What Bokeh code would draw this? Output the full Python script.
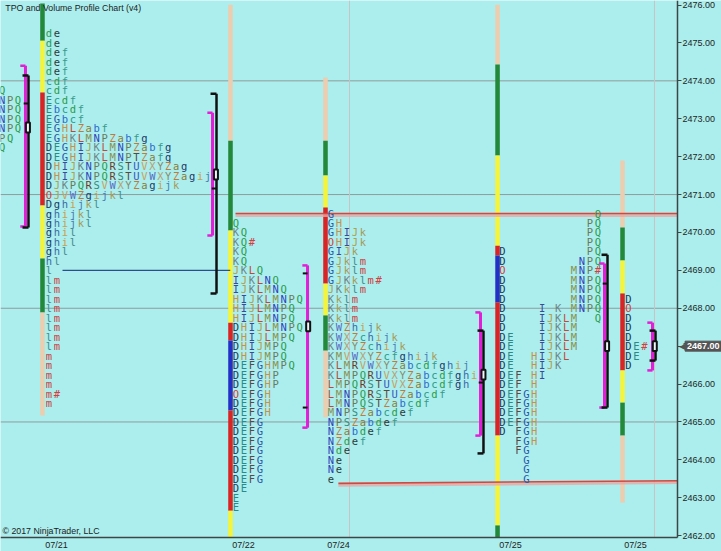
from bokeh.plotting import figure
from bokeh.models import Range1d, FixedTicker, ColumnDataSource, Label, NumeralTickFormatter
from bokeh.core.properties import value
from bokeh.embed import file_html
from bokeh.resources import INLINE

TICK = 0.25  # one TPO row = 0.25 point

# ---------------- data: TPO letters, one string per price row (top -> bottom) ----------------
prev_top = 2473.75
prev_rows = ["KLQ", "KLNPQ", "KLNPQ", "KLNPQ", "KLNPQ", "KLPQ", "KLQ"]

jul21_top = 2475.25
jul21_rows = ["de", "de", "def", "def", "def", "cdf", "cdf", "Ecdf", "Ebcdf", "EGbcf",
              "EGHLZabf", "EGHKLMNPZabfg", "DEGHIJKLMNPZabfg", "DEGHIJKLMNPTZafg",
              "DHIJKNPQRSTUVXYZag", "DHIJKNPQRSTUVWXYZagij", "DJKPQRSVWXYZagijk",
              "OJVWZgijkl", "Dghijkl", "ghijkl", "ghijkl", "ghil", "ghil", "ghl", "hl", "l",
              "lm", "lm", "lm", "lm", "lm", "lm", "lm", "lm", "m", "m", "m", "m", "m#", "m"]

jul22_top = 2470.25
jul22_rows = ["Q", "KQ", "KQ#", "KQ", "KQ", "JKLQ", "IJKLNQ", "IJKLMNQ", "HIJKLMNPQ", "HIJLMNPQ",
              "HIJLMNPQ", "DHIJLMNPQ", "DHIJLMPQ", "DHIJMPQ", "DHIJMPQ", "DEFGHMPQ", "DEFGHP",
              "DEFGHP", "OEFGH", "DEFGH", "DEFGH", "DEFG", "DEFG", "DEFG", "DEFG", "DEFG",
              "DEFG", "DEFG", "DE", "E", "E"]

jul24_top = 2470.5
jul24_rows = ["G", "GH", "GHIJk", "OHIJk", "GIJk", "GJklm", "GJklm", "GJKklm#", "JKklm", "Kklm",
              "Kklm", "Kklm", "KWZhijk", "KWXZchijk", "KWXYZchijk", "KMVWXYZcfghijk",
              "KLMRVWXYZabcdfghij", "KLMPQRUVXYZabcdfghi", "LMPQRSTUVXZabcdfgh",
              "LMNPQRSTUZabcdf", "LMNPQSTZabcdf", "MNPSZabcdef", "NPSZabdef", "NZabdef",
              "NZdef", "Nde", "Ne", "Ne", "e"]

jul25a_top = 2470.5
jul25a_rows = ["            Q", "           PQ", "           PQ", "           PQ",
               "D          PQ", "D         NPQ", "O        MNP#", "D        MNPQ",
               "D        MNPQ", "D        MNPQ", "D    I K MNPQ", "D    IJKLM  Q",
               "D    IJKLM", "DE   IJKLM", "DE   IJKLM", "DE  HIJKL", "DE  HIJK", "DEF HI",
               "DEF H", "DEFGH", "DEFGH", "DEFGH", "DEFGH", "D FGH", "  FGH", "  FG",
               "   G", "   G", "   G"]

jul25b_top = 2468.25
jul25b_rows = ["D", "O", "D", "D", "D", "DE#", "DE", "D"]

# session slots (in TPO-column units along the time axis)
profile_tops = [prev_top, jul21_top, jul22_top, jul24_top, jul25a_top, jul25b_top]
profile_rows = [prev_rows, jul21_rows, jul22_rows, jul24_rows, jul25a_rows, jul25b_rows]
profile_slot = [-1.8, 6.10, 29.62, 41.57, 63.14, 78.99]

# ---------------- data: session range bars (price breaks and segment colours) ----------------
bar_slot = [5.28, 28.93, 40.88, 62.52, 78.24]
bar_levels = [
    [2476.04, 2475.06, 2473.69, 2470.71, 2469.31, 2467.89, 2465.17],
    [2476.01, 2472.42, 2470.05, 2467.62, 2467.15, 2465.30, 2462.66, 2461.95],
    [2474.09, 2472.42, 2471.50, 2470.66, 2468.65, 2467.81, 2466.88, 2465.12],
    [2476.01, 2474.43, 2472.03, 2469.65, 2469.39, 2468.15, 2464.64, 2462.27, 2461.95],
    [2471.90, 2470.13, 2469.26, 2468.39, 2466.36, 2465.51, 2464.64, 2462.87],
]
bar_kinds = [
    ["g", "y", "r", "y", "g", "t"],
    ["t", "g", "y", "r", "b", "r", "y"],
    ["t", "g", "y", "r", "y", "g", "t"],
    ["t", "g", "y", "r", "b", "r", "y", "g"],
    ["t", "g", "y", "r", "y", "g", "t"],
]

# ---------------- data: value areas, initial balance, POC ----------------
va_slot = [3.14, 26.67, 38.62, 60.38, 75.97, 82.01]
va_high = [2474.40, 2473.16, 2469.13, 2467.89, 2469.18, 2467.62]
va_low = [2470.16, 2469.92, 2464.85, 2464.64, 2465.38, 2466.36]

ib_slot = [3.52, 27.17, 60.75, 76.35, 82.39]
ib_high = [2474.14, 2473.66, 2467.41, 2469.41, 2467.41]
ib_low = [2470.13, 2468.39, 2464.17, 2465.38, 2466.62]

mark_slot = [3.52, 27.17, 38.62, 38.62, 60.75, 76.35]
mark_price = [2473.40, 2471.16, 2468.92, 2465.38, 2466.04, 2468.65]

poc_slot = [3.45, 27.1, 38.7, 60.75, 76.3, 82.3]
poc_price = [2472.77, 2471.53, 2467.52, 2466.25, 2467.00, 2467.00]

# reference lines
red_x0 = [29.56, 42.5]
red_y0 = [2470.50, 2463.38]
red_y1 = [2470.50, 2463.45]
blue_x0, blue_x1, blue_y = [7.8], [28.9], [2469.0]

# axes
chart_end = 85.16                 # last slot of the price pane
price_low, price_high = 2461.95, 2476.12
date_ticks = [7.04, 30.57, 42.52, 64.15, 79.87]
date_labels = ["07/21", "07/22", "07/24", "07/25", "07/25"]
price_ticks = list(range(2462, 2477))
grid_prices = [2465, 2468, 2471, 2474]
grid_slots = [43.9, 82.26]
last_price = 2467.00

# ---------------- styles ----------------
BG = "#abeeed"
AX = "#3c4646"
seg_colors = {"g": "#23883a", "y": "#f4f43a", "r": "#d82424", "b": "#2230c8", "t": "#eccdb0"}
letter_colors = {
    'D': '#1b3b5a', 'E': '#2a8a8a', 'F': '#5a4848', 'G': '#2a56a8', 'H': '#c4924c',
    'I': '#3a4a9a', 'J': '#b0a050', 'K': '#6f8686', 'L': '#c0483a', 'M': '#8a9050',
    'N': '#3344bb', 'O': '#d03c3c', 'P': '#6a7a5a', 'Q': '#2a9a4a', 'R': '#6a3a2a',
    'S': '#3a8a7a', 'T': '#5a4a3a', 'U': '#3a58c0', 'V': '#c8a060', 'W': '#5a6abf',
    'X': '#b8a070', 'Y': '#8a8a6a', 'Z': '#c07a3a',
    'a': '#8a7a3a', 'b': '#2a6acc', 'c': '#2a9a8a', 'd': '#2a9a4a', 'e': '#2a3a3a',
    'f': '#3a9a8a', 'g': '#1a3a6a', 'h': '#3a6aaa', 'i': '#c8a050', 'j': '#4a7ab0',
    'k': '#a89a5a', 'l': '#4a8a8a', 'm': '#cc4040', '#': '#d04040',
}

# the frame covers the whole canvas; axes are pinned at the pane edges
p = figure(width=721, height=551, output_backend="svg", toolbar_location=None,
           x_range=Range1d(0, 90.69), y_range=Range1d(2461.582, price_high),
           y_axis_location="right", min_border_left=0, min_border_top=0,
           min_border_right=0, min_border_bottom=0)
p.background_fill_color = BG
p.border_fill_color = BG
p.outline_line_color = None
p.grid.visible = False

# y axis (price)
p.yaxis.fixed_location = chart_end
p.yaxis.bounds = (price_low, price_high)
p.yaxis.ticker = FixedTicker(ticks=price_ticks)
p.yaxis.formatter = NumeralTickFormatter(format="0.00")
p.yaxis.major_tick_out = 4
p.yaxis.major_tick_in = 0
p.yaxis.minor_tick_out = 0
p.yaxis.minor_tick_in = 0
p.yaxis.minor_tick_line_color = None
p.yaxis.axis_line_color = AX
p.yaxis.axis_line_width = 1.5
p.yaxis.major_tick_line_color = AX
p.yaxis.major_label_text_font = "Liberation Sans"
p.yaxis.major_label_text_font_size = "9px"
p.yaxis.major_label_text_color = "#1e2424"
p.yaxis.major_label_standoff = 1

# x axis (dates)
p.xaxis.fixed_location = price_low
p.xaxis.bounds = (0, chart_end)
p.xaxis.ticker = FixedTicker(ticks=date_ticks)
p.xaxis.major_label_overrides = {t: l for t, l in zip(date_ticks, date_labels)}
p.xaxis.major_tick_line_color = None
p.xaxis.minor_tick_line_color = None
p.xaxis.major_tick_out = 0
p.xaxis.major_tick_in = 0
p.xaxis.axis_line_color = AX
p.xaxis.axis_line_width = 1.5
p.xaxis.major_label_text_font = "Liberation Sans"
p.xaxis.major_label_text_font_size = "9px"
p.xaxis.major_label_text_color = "#1e2424"
p.xaxis.major_label_standoff = 2

# grid lines limited to the price pane
p.segment(x0=0, y0=grid_prices, x1=chart_end, y1=grid_prices, line_color="#8e9c9c", line_width=1)
p.segment(x0=grid_slots, y0=price_low, x1=grid_slots, y1=price_high, line_color="#c7c4c4", line_width=1)

# range bars
bx, btop, bbot, bcol = [], [], [], []
for s, lv, kinds in zip(bar_slot, bar_levels, bar_kinds):
    for i, k in enumerate(kinds):
        bx.append(s)
        btop.append(lv[i])
        bbot.append(lv[i + 1])
        bcol.append(seg_colors[k])
p.vbar(x="x", top="top", bottom="bottom", width=0.57, color="c", line_color=None,
       source=ColumnDataSource(dict(x=bx, top=btop, bottom=bbot, c=bcol)))

# reference lines
red_x1 = [chart_end] * len(red_x0)
p.segment(x0=blue_x0, y0=blue_y, x1=blue_x1, y1=blue_y, line_color="#2c4f8c", line_width=1.2)
p.segment(x0=red_x0, y0=[y - 0.05 for y in red_y0], x1=red_x1, y1=[y - 0.05 for y in red_y1],
          line_color="#e7a7a4", line_width=3, line_alpha=0.8)
p.segment(x0=red_x0, y0=red_y0, x1=red_x1, y1=red_y1, line_color="#d2473f", line_width=1.6)

# TPO letters
lx, ly, lt, lc = [], [], [], []
for top, rows, s in zip(profile_tops, profile_rows, profile_slot):
    for i, row in enumerate(rows):
        for j, ch in enumerate(row):
            if ch == " ":
                continue
            lx.append(s + j)
            ly.append(top - i * TICK)
            lt.append(ch)
            lc.append(letter_colors[ch])
p.text(x="x", y="y", text="t", text_color="c", source=ColumnDataSource(dict(x=lx, y=ly, t=lt, c=lc)),
       text_font=value("DejaVu Sans Mono"), text_font_size=value("10.5px"), text_font_style="normal",
       text_align="center", text_baseline="middle")

# value area brackets (magenta)
MAG = "#e21ed6"
p.segment(x0=va_slot, y0=va_high, x1=va_slot, y1=va_low, line_color=MAG, line_width=3)
p.segment(x0=[x - 0.65 for x in va_slot], y0=va_high, x1=va_slot, y1=va_high, line_color=MAG, line_width=2.5)
p.segment(x0=[x - 0.65 for x in va_slot], y0=va_low, x1=va_slot, y1=va_low, line_color=MAG, line_width=2.5)

# initial balance (black)
p.segment(x0=ib_slot, y0=ib_high, x1=ib_slot, y1=ib_low, line_color="#111111", line_width=2.5)
p.segment(x0=[x - 0.75 for x in ib_slot], y0=ib_high, x1=ib_slot, y1=ib_high, line_color="#111111", line_width=2.5)
p.segment(x0=[x - 0.75 for x in ib_slot], y0=ib_low, x1=ib_slot, y1=ib_low, line_color="#111111", line_width=2.5)
p.segment(x0=[x - 0.6 for x in mark_slot], y0=mark_price, x1=mark_slot, y1=mark_price,
          line_color="#111111", line_width=2)

# POC boxes
p.rect(x=poc_slot, y=poc_price, width=0.5, height=0.26, fill_color="#eef8f8",
       line_color="#111111", line_width=2)

# texts
p.add_layout(Label(x=0.6, y=2475.91, text="TPO and Volume Profile Chart (v4)",
                   text_font="Liberation Sans", text_font_size="8.8px", text_color="#1c2222",
                   text_baseline="middle", text_align="left"))
p.add_layout(Label(x=0.25, y=2462.12, text="© 2017 NinjaTrader, LLC",
                   text_font="Liberation Sans", text_font_size="8.8px", text_color="#1c2222",
                   text_baseline="middle", text_align="left"))

# last-price marker next to the price axis
p.add_layout(Label(x=chart_end + 0.95, y=last_price, text="%.2f" % last_price,
                   text_font="Liberation Sans", text_font_size="9px", text_font_style="bold",
                   text_color="white", text_baseline="middle", text_align="left",
                   background_fill_color="#545454", border_line_color="#545454", padding=2))
p.add_layout(Label(x=chart_end + 0.98, y=last_price, text="\u25c0",
                   text_font="DejaVu Sans", text_font_size="8px", text_color="#545454",
                   text_baseline="middle", text_align="right"))

open("out.html", "w").write(file_html(p, INLINE))
